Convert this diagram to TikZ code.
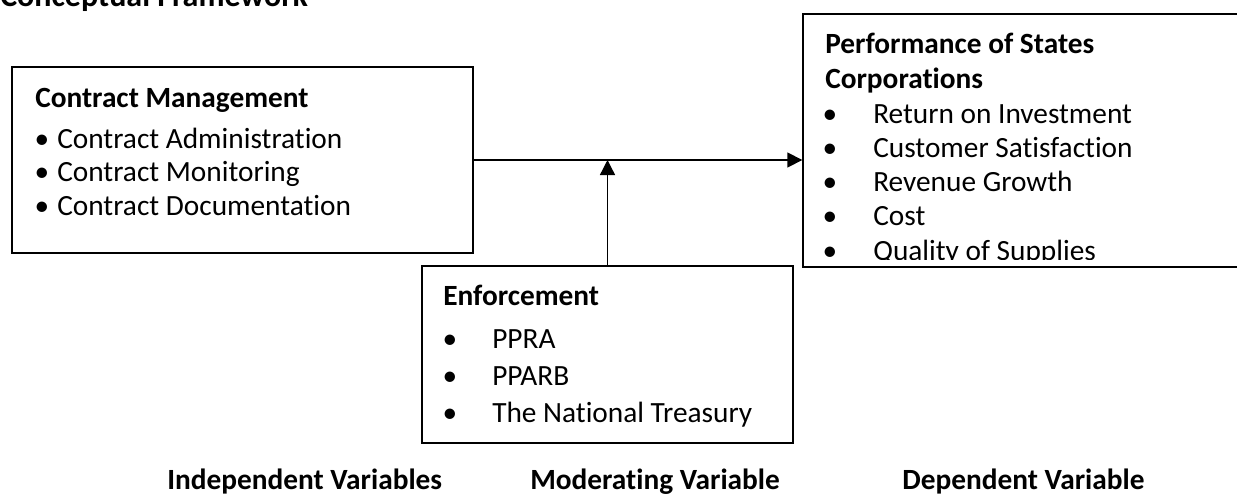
\documentclass[tikz,border=0pt]{standalone}
\usepackage{fontspec}
\setmainfont{Carlito}[Ligatures=NoCommon]
\usetikzlibrary{arrows.meta}

\tikzset{
  box/.style={draw, line width=1pt, inner sep=0pt},
  link/.style={line width=1pt, -{Triangle[length=11.25pt, width=11.25pt]}},
  txt/.style={anchor=base west, inner sep=0pt, font=\fontsize{22}{26}\selectfont},
  head/.style={anchor=base west, inner sep=0pt, font=\fontsize{22}{26}\selectfont\bfseries},
  dot/.style={anchor=base, inner sep=0pt, font=\fontsize{22}{26}\selectfont},
  caption/.style={anchor=base west, inner sep=0pt, font=\fontsize{22}{26}\selectfont\bfseries},
}

\begin{document}
\begin{tikzpicture}[x=0.75pt, y=-0.75pt]
  \useasboundingbox (0,0) rectangle (1237,493);
  \node[caption, font=\fontsize{24}{28}\selectfont\bfseries] (title) at (0,6) {Conceptual Framework};

  % independent variables
  \node[box, minimum width=345.75pt, minimum height=139.5pt] (cm) at (242.5,160) {};
  \node[head] (cm-head) at (35,107) {Contract Management};
  \foreach \name [count=\i] in {Contract Administration, Contract Monitoring, Contract Documentation} {
    \node[dot] (cm-dot-\i) at (42,114.5+33.5*\i) {•};
    \node[txt] (cm-\i) at (57,114.5+33.5*\i) {\name};
  }

  % dependent variable
  \node[box, minimum width=327.75pt, minimum height=189.75pt] (perf) at (1021.5,140.5) {};
  \begin{scope}
    \clip (803,14) rectangle (1237,259);
    \node[head] (perf-head) at (825,53) {Performance of States};
    \node[head] (perf-head2) at (825,88) {Corporations};
    \foreach \name [count=\i] in {Return on Investment, Customer Satisfaction, Revenue Growth, Cost, Quality of Supplies} {
      \node[dot] (perf-dot-\i) at (830,88.75+34.25*\i) {•};
      \node[txt] (perf-\i) at (873,88.75+34.25*\i) {\name};
    }
  \end{scope}

  % moderating variable
  \node[box, minimum width=278.25pt, minimum height=132.75pt] (enf) at (607.5,354.5) {};
  \node[head] (enf-head) at (443,305) {Enforcement};
  \foreach \name [count=\i] in {PPRA, PPARB, The National Treasury} {
    \node[dot] (enf-dot-\i) at (450,311+37*\i) {•};
    \node[txt] (enf-\i) at (492,311+37*\i) {\name};
  }

  % connectors
  \draw[link] (cm.east) -- (cm.east -| perf.west);
  \draw[link] (enf.north) -- (enf.north |- cm.east);

  % column labels
  \node[caption] (lab-ind) at (167,489) {Independent Variables};
  \node[caption] (lab-mod) at (530,489) {Moderating Variable};
  \node[caption] (lab-dep) at (902,489) {Dependent Variable};
\end{tikzpicture}
\end{document}
